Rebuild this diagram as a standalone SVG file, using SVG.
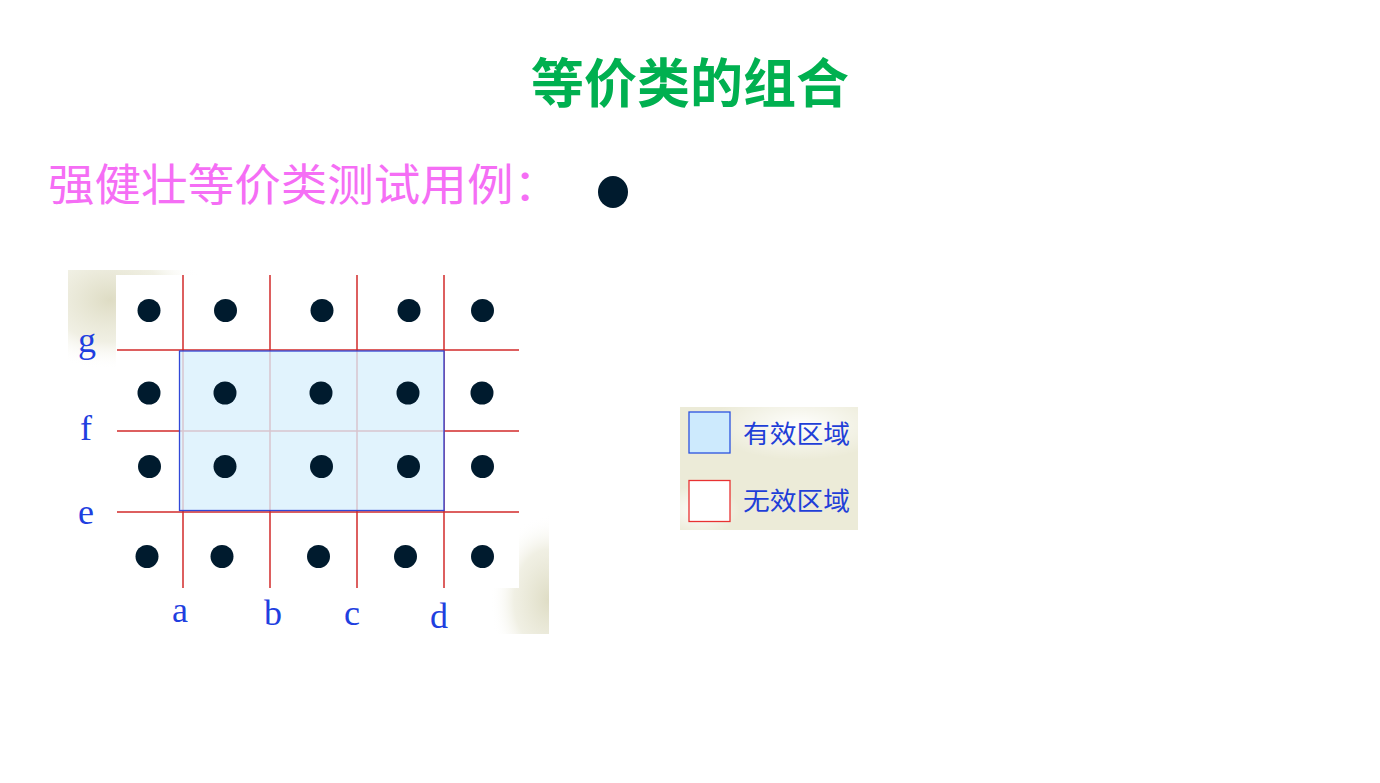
<svg xmlns="http://www.w3.org/2000/svg" width="1380" height="783" viewBox="0 0 1380 783">
  <defs>
    <style>
      .dot { fill: #001b2e; }
      .grid { stroke: #d22a2a; stroke-width: 1.5; fill: none; }
      .axis { font-family: "Liberation Serif", "DejaVu Serif", serif; font-size: 36px; fill: #1f3fe0; }
      .leg { font-family: "Noto Sans CJK SC", sans-serif; font-size: 25px; fill: #1f3fd8; }
    </style>
    <radialGradient id="beige" cx="50%" cy="50%" r="50%">
      <stop offset="0" stop-color="#dedcc4"/>
      <stop offset="0.6" stop-color="#eae9d8" stop-opacity="0.7"/>
      <stop offset="1" stop-color="#ffffff" stop-opacity="0"/>
    </radialGradient>
    <radialGradient id="whiteblob" cx="50%" cy="50%" r="50%">
      <stop offset="0" stop-color="#ffffff" stop-opacity="0.95"/>
      <stop offset="1" stop-color="#ffffff" stop-opacity="0"/>
    </radialGradient>
    <clipPath id="chartclip">
      <rect x="68" y="270" width="481" height="364"/>
    </clipPath>
  </defs>

  <rect width="1380" height="783" fill="#ffffff"/>

  <g id="title">
    <text x="690" y="103" text-anchor="middle" font-family="Noto Sans CJK SC, sans-serif" font-size="53" font-weight="bold" fill="#00b050">等价类的组合</text>
  </g>

  <g id="subtitle">
    <text x="48" y="201" font-family="Noto Sans CJK SC, sans-serif" font-size="44" fill="#f56ef5" textLength="512" lengthAdjust="spacingAndGlyphs">强健壮等价类测试用例：</text>
    <ellipse cx="613" cy="192" rx="15" ry="16" class="dot"/>
  </g>

  <g id="chart-bg" clip-path="url(#chartclip)">
    <rect x="68" y="270" width="481" height="364" fill="#ffffff"/>
    <ellipse cx="110" cy="300" rx="95" ry="70" fill="url(#beige)"/>
    <ellipse cx="550" cy="600" rx="60" ry="85" fill="url(#beige)"/>
    <rect x="116" y="275" width="403" height="313" fill="#ffffff"/>
  </g>

  <g id="grid-lines">
    <line class="grid" x1="183" y1="275" x2="183" y2="588"/>
    <line class="grid" x1="270" y1="275" x2="270" y2="588"/>
    <line class="grid" x1="357" y1="275" x2="357" y2="588"/>
    <line class="grid" x1="444" y1="275" x2="444" y2="588"/>
    <line class="grid" x1="117" y1="350" x2="519" y2="350"/>
    <line class="grid" x1="117" y1="431" x2="519" y2="431"/>
    <line class="grid" x1="117" y1="512" x2="519" y2="512"/>
  </g>

  <g id="valid-region">
    <rect x="179.5" y="351" width="264.5" height="159.5" fill="#d9effd" fill-opacity="0.78" stroke="#3048d8" stroke-width="1.3"/>
  </g>

  <g id="points">
    <circle class="dot" cx="149" cy="310.5" r="11.5"/>
    <circle class="dot" cx="225.5" cy="310.5" r="11.5"/>
    <circle class="dot" cx="322" cy="310.5" r="11.5"/>
    <circle class="dot" cx="409" cy="310.5" r="11.5"/>
    <circle class="dot" cx="482.5" cy="310.5" r="11.5"/>

    <circle class="dot" cx="149" cy="393" r="11.5"/>
    <circle class="dot" cx="225" cy="393" r="11.5"/>
    <circle class="dot" cx="321" cy="393" r="11.5"/>
    <circle class="dot" cx="408" cy="393" r="11.5"/>
    <circle class="dot" cx="482" cy="393" r="11.5"/>

    <circle class="dot" cx="149.5" cy="466.5" r="11.5"/>
    <circle class="dot" cx="225" cy="466.5" r="11.5"/>
    <circle class="dot" cx="321.5" cy="466.5" r="11.5"/>
    <circle class="dot" cx="408.5" cy="466.5" r="11.5"/>
    <circle class="dot" cx="482.5" cy="466.5" r="11.5"/>

    <circle class="dot" cx="147" cy="556.5" r="11.5"/>
    <circle class="dot" cx="222" cy="556.5" r="11.5"/>
    <circle class="dot" cx="318.5" cy="556.5" r="11.5"/>
    <circle class="dot" cx="405.5" cy="556.5" r="11.5"/>
    <circle class="dot" cx="482.5" cy="556.5" r="11.5"/>
  </g>

  <g id="axis-labels">
    <text class="axis" x="87" y="352" text-anchor="middle">g</text>
    <text class="axis" x="86" y="440" text-anchor="middle">f</text>
    <text class="axis" x="86" y="524" text-anchor="middle">e</text>
    <text class="axis" x="180" y="622" text-anchor="middle">a</text>
    <text class="axis" x="273" y="625" text-anchor="middle">b</text>
    <text class="axis" x="352" y="625" text-anchor="middle">c</text>
    <text class="axis" x="439" y="628" text-anchor="middle">d</text>
  </g>

  <g id="legend">
    <rect x="680" y="407" width="178" height="123" fill="#ecebd8"/>
    <ellipse cx="800" cy="425" rx="90" ry="35" fill="url(#whiteblob)"/>
    <ellipse cx="700" cy="510" rx="40" ry="25" fill="url(#whiteblob)"/>
    <rect x="689" y="412" width="41" height="41" fill="#cdeafd" stroke="#2a52e0" stroke-width="1.3"/>
    <text class="leg" x="743" y="443" textLength="107" lengthAdjust="spacingAndGlyphs">有效区域</text>
    <rect x="689" y="480.5" width="41" height="41" fill="#ffffff" stroke="#e83232" stroke-width="1.3"/>
    <text class="leg" x="743" y="510" textLength="107" lengthAdjust="spacingAndGlyphs">无效区域</text>
  </g>
</svg>
